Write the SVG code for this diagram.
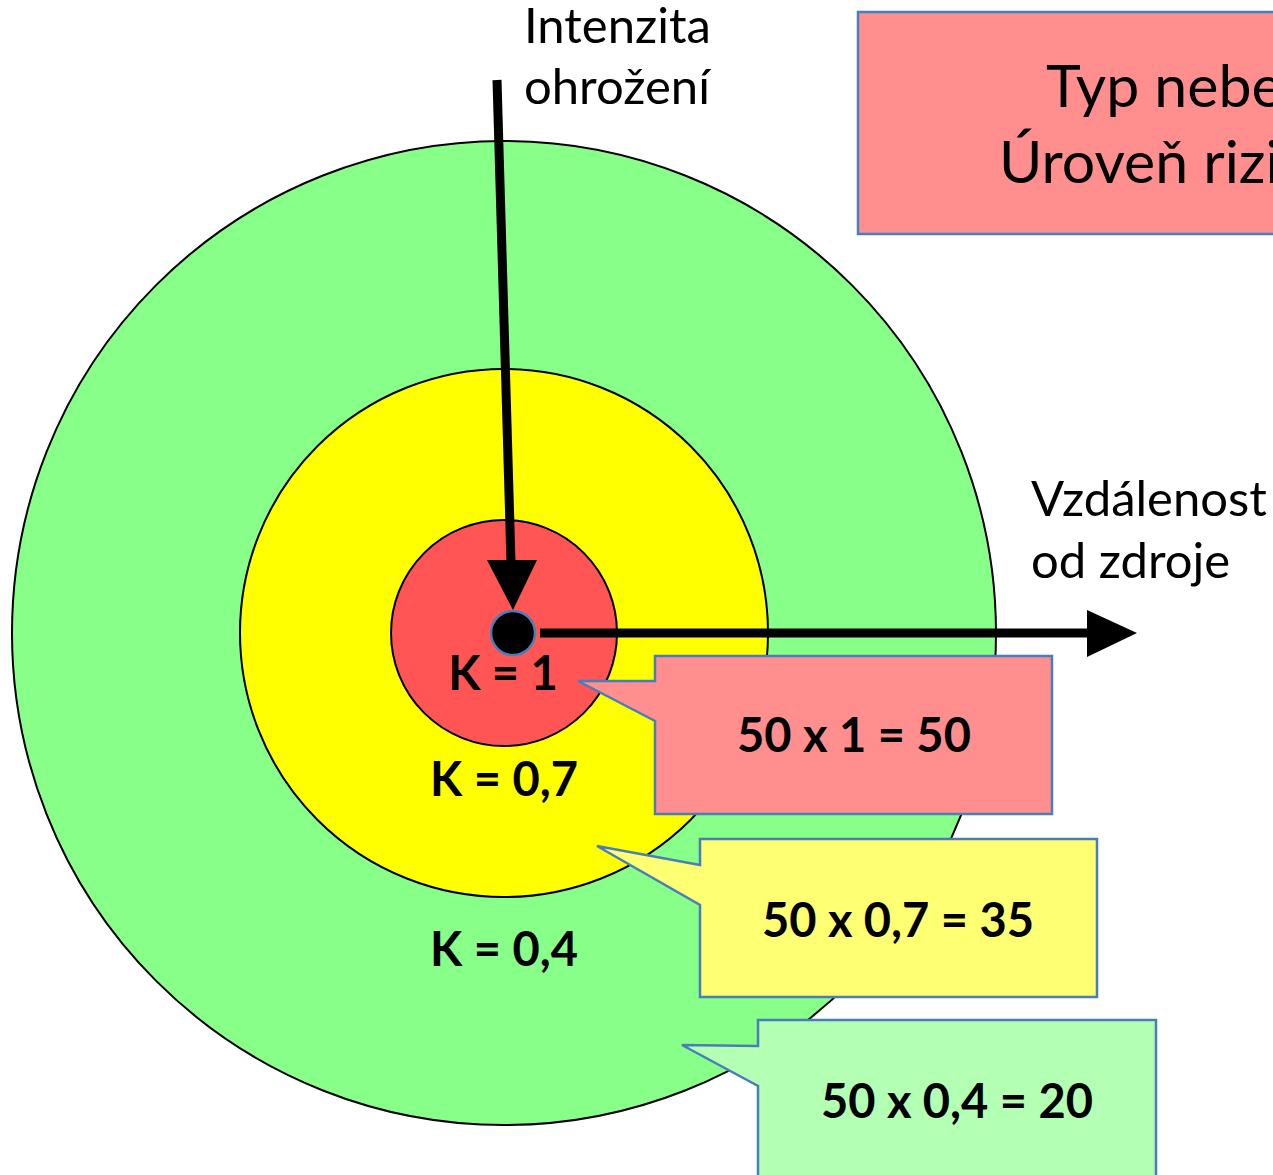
<svg xmlns="http://www.w3.org/2000/svg" width="1273" height="1175" viewBox="0 0 1273 1175">
<style>
.lbl{font-family:Lato,"Open Sans",sans-serif;font-size:49px;fill:#000}
.big{font-family:Lato,"Open Sans",sans-serif;font-size:59px;fill:#000}
.b{font-family:Lato,"Open Sans",sans-serif;font-size:47px;font-weight:bold;fill:#000;text-anchor:middle}
.ring{stroke:#000;stroke-width:2}
.call{stroke:#4a7ebb;stroke-width:2.5}
.ax{stroke:#000;stroke-width:9;fill:none}
</style>
<rect width="1273" height="1175" fill="#fff"/>
<g id="zone-green"><circle class="ring" cx="504" cy="633" r="492" fill="#88ff88"/></g>
<g id="zone-yellow"><circle class="ring" cx="504" cy="633" r="264" fill="#ffff00"/></g>
<g id="zone-red"><circle class="ring" cx="504" cy="633" r="113" fill="#ff5555"/></g>
<g id="connectors">
<line class="ax" x1="497" y1="80" x2="511" y2="562"/>
<polygon points="487,560 537,560 513,610" fill="#000"/>
<line class="ax" x1="540" y1="633" x2="1089" y2="633"/>
<polygon points="1087,610 1137,633 1087,657" fill="#000"/>
</g>
<g id="source"><circle cx="513" cy="633" r="22" fill="#000" stroke="#4a7ebb" stroke-width="2.5"/></g>
<g id="label-intenzita"><text class="lbl" x="524" y="43">Intenzita</text><text class="lbl" x="524" y="104">ohrožení</text></g>
<g id="label-vzdalenost"><text class="lbl" x="1031" y="516">Vzdálenost</text><text class="lbl" x="1031" y="578">od zdroje</text></g>
<g id="k1"><text class="b" x="503" y="690">K = 1</text></g>
<g id="k07"><text class="b" x="504" y="796">K = 0,7</text></g>
<g id="k04"><text class="b" x="504" y="966">K = 0,4</text></g>
<g id="box-top"><rect x="858" y="12" width="430" height="222" fill="#ff8f8f" stroke="#4a7ebb" stroke-width="2.5"/>
<text class="big" x="1046" y="107">Typ nebe</text><text class="big" x="999" y="183">Úroveň rizi</text></g>
<g id="callout-red"><path class="call" d="M655,656 H1052 V814 H655 V721 L578,681 H655 Z" fill="#ff8f8f"/><text class="b" x="854" y="752">50 x 1 = 50</text></g>
<g id="callout-yellow"><path class="call" d="M700,839 H1097 V997 H700 V905 L597,846 L700,865 Z" fill="#ffff73"/><text class="b" x="898" y="937">50 x 0,7 = 35</text></g>
<g id="callout-green"><path class="call" d="M758,1020 H1156 V1190 H758 V1086 L682,1045 L758,1046 Z" fill="#b3ffb3"/><text class="b" x="957" y="1118">50 x 0,4 = 20</text></g>
</svg>
